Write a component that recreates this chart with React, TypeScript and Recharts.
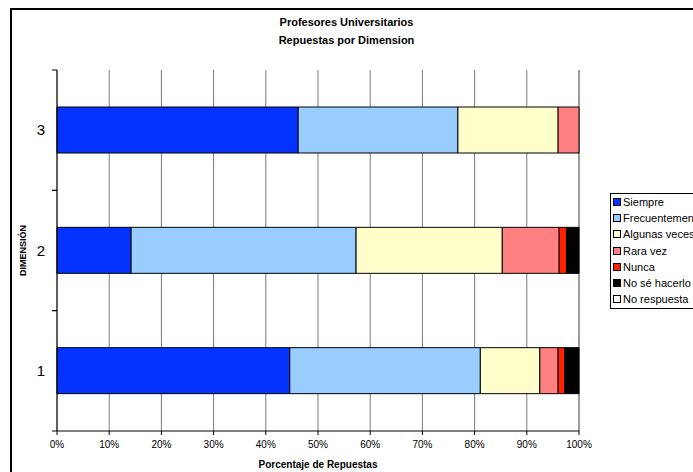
import React from 'react';
import { BarChart, Bar, XAxis, YAxis, CartesianGrid, Label } from 'recharts';

const dimensions = ['1', '2', '3'];
const siempre = [44.6, 14.2, 46.2];
const frecuentemente = [36.5, 43.1, 30.6];
const algunasVeces = [11.4, 28.0, 19.2];
const raraVez = [3.5, 10.9, 4.0];
const nunca = [1.3, 1.4, 0];
const noSeHacerlo = [2.7, 2.4, 0];
const noRespuesta = [0, 0, 0];
const xTicks = [0, 10, 20, 30, 40, 50, 60, 70, 80, 90, 100];

const series = [
  { key: 'siempre', name: 'Siempre', color: '#0433FF', values: siempre },
  { key: 'frecuentemente', name: 'Frecuentemente', color: '#99CCFF', values: frecuentemente },
  { key: 'algunas', name: 'Algunas veces', color: '#FFFFCC', values: algunasVeces },
  { key: 'rara', name: 'Rara vez', color: '#FF8080', values: raraVez },
  { key: 'nunca', name: 'Nunca', color: '#FF2200', values: nunca },
  { key: 'nose', name: 'No sé hacerlo', color: '#000000', values: noSeHacerlo },
  { key: 'norespuesta', name: 'No respuesta', color: '#FFFFFF', values: noRespuesta },
];

const data = dimensions.map((d, i) => {
  const row: Record<string, string | number> = { dim: d };
  series.forEach((s) => {
    row[s.key] = s.values[i];
  });
  return row;
});

const FONT = '"Liberation Sans", Arial, sans-serif';

// category tick: label in the middle, tick marks on the band edges (Excel style)
const DimTick = (props: any) => {
  const { x, y, payload } = props;
  const half = payload && payload.offset ? payload.offset : 60;
  return (
    <g>
      <line x1={x} x2={x + 5} y1={y - half} y2={y - half} stroke="#000" />
      <line x1={x} x2={x + 5} y1={y + half} y2={y + half} stroke="#000" />
      <text x={x - 7} y={y} dy="0.35em" textAnchor="end" fontSize={15} fontFamily={FONT} fill="#000">
        {payload.value}
      </text>
    </g>
  );
};

const LegendBox = () => (
  <div
    style={{
      position: 'absolute',
      left: 610,
      top: 193,
      border: '1px solid #000',
      background: '#fff',
      width: 100,
      height: 116,
      padding: '0 0 0 2px',
      boxSizing: 'border-box',
      fontFamily: FONT,
      fontSize: 11,
    }}
  >
    {series.map((s) => (
      <div key={s.key} style={{ display: 'flex', alignItems: 'center', height: 16.2, whiteSpace: 'nowrap' }}>
        <span
          style={{
            display: 'inline-block',
            width: 6,
            height: 6,
            border: '1px solid #000',
            background: s.color,
            marginRight: 2,
          }}
        />
        <span>{s.name}</span>
      </div>
    ))}
  </div>
);

export default function App() {
  return (
    <div style={{ position: 'fixed', left: 0, top: 0, width: 693, height: 472, overflow: 'hidden', background: '#fff' }}>
      <div
        style={{
          position: 'absolute',
          left: 10,
          top: 8,
          width: 720,
          height: 520,
          border: '2px solid #000',
        }}
      />
      <div
        style={{
          position: 'absolute',
          left: 0,
          top: 13,
          width: 693,
          textAlign: 'center',
          fontFamily: FONT,
          fontWeight: 'bold',
          fontSize: 11,
          lineHeight: '18px',
        }}
      >
        Profesores Universitarios
        <br />
        Repuestas por Dimension
      </div>
      <div style={{ position: 'absolute', left: 0, top: 0 }}>
        <BarChart
          width={693}
          height={472}
          data={data}
          layout="vertical"
          margin={{ top: 70, right: 114, bottom: 1, left: 0 }}
        >
          <CartesianGrid horizontal={false} stroke="#7a7a7a" strokeWidth={1} />
          <XAxis
            type="number"
            domain={[0, 100]}
            ticks={xTicks}
            tickFormatter={(v) => `${v}%`}
            height={40}
            tickSize={4}
            tickMargin={6}
            axisLine={{ stroke: '#000' }}
            tickLine={{ stroke: '#000' }}
            tick={{ fontSize: 10, fill: '#000', fontFamily: FONT }}
          >
            <Label
              value="Porcentaje de Repuestas"
              position="insideBottom"
              offset={3}
              style={{ fontSize: 10, fontWeight: 'bold', fill: '#000', fontFamily: FONT }}
            />
          </XAxis>
          <YAxis
            type="category"
            dataKey="dim"
            reversed
            width={57}
            tickSize={5}
            tickMargin={0}
            tickLine={false}
            axisLine={{ stroke: '#000' }}
            tick={<DimTick />}
          >
            <Label
              value="DIMENSIÓN"
              angle={-90}
              position="insideLeft"
              offset={23}
              style={{ fontSize: 9, fontWeight: 'bold', fill: '#000', fontFamily: FONT, textAnchor: 'middle' }}
            />
          </YAxis>
          {series.map((s) => (
            <Bar
              key={s.key}
              dataKey={s.key}
              name={s.name}
              stackId="a"
              fill={s.color}
              stroke="#000"
              strokeWidth={1}
              barSize={46}
              isAnimationActive={false}
            />
          ))}
        </BarChart>
      </div>
      <LegendBox />
    </div>
  );
}
